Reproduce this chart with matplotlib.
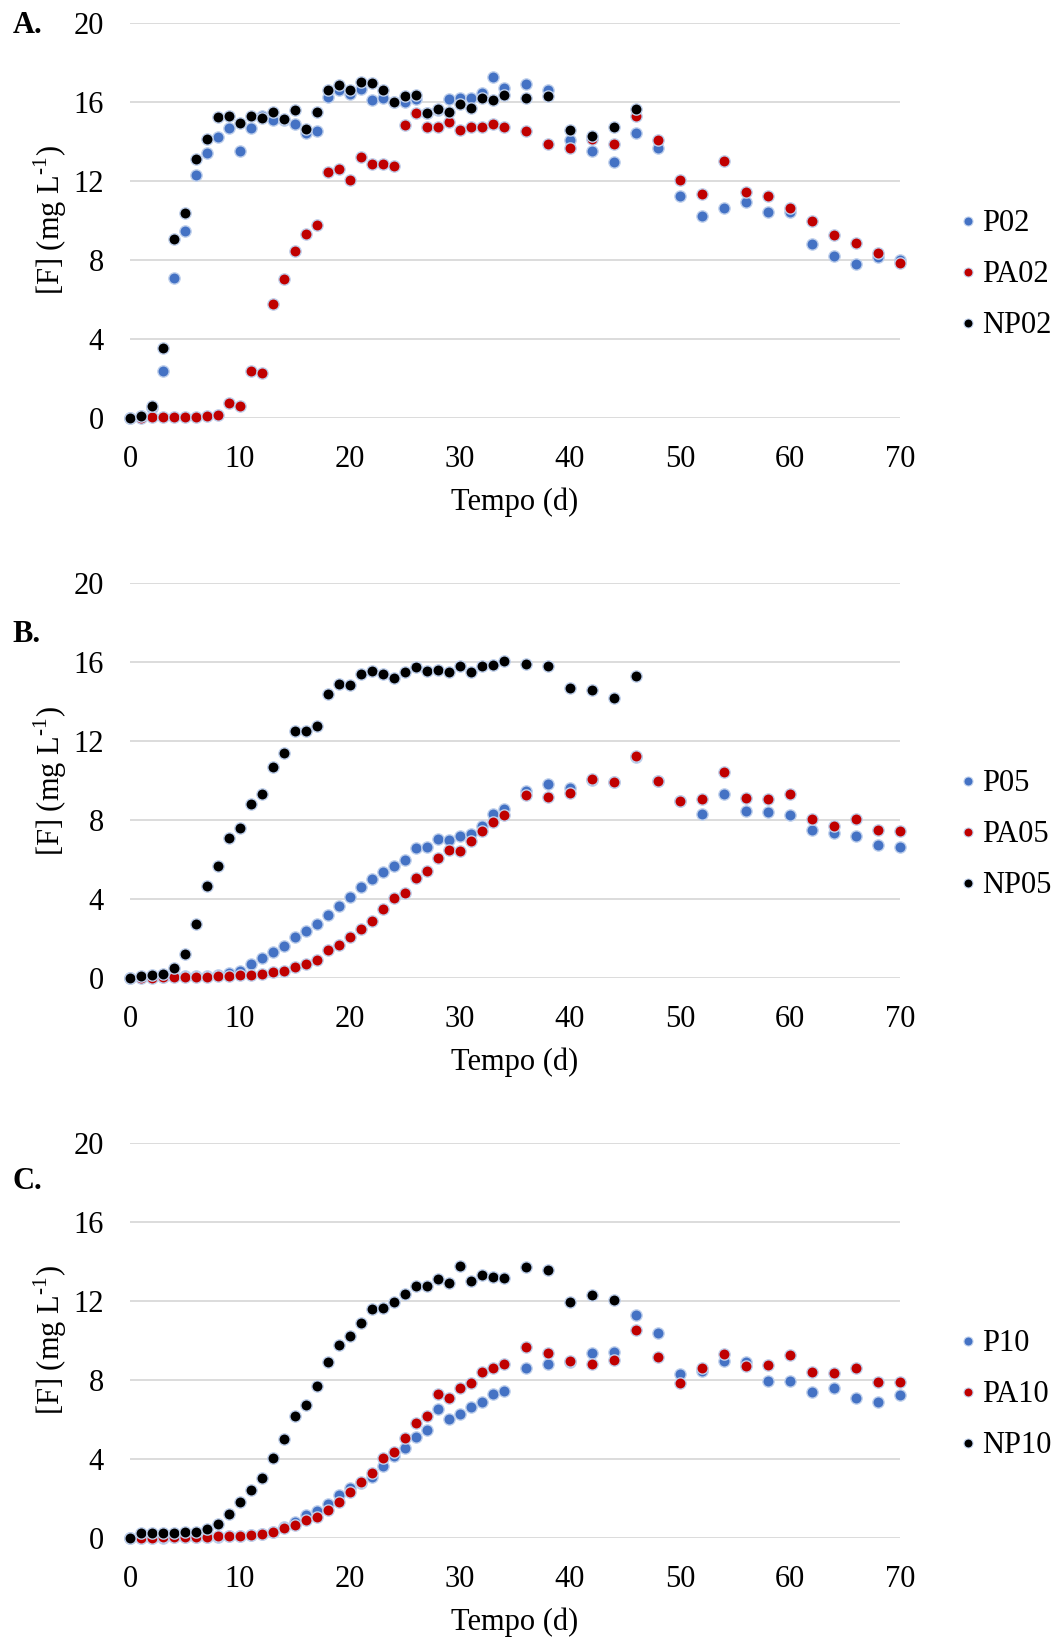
import matplotlib
matplotlib.use("Agg")
import matplotlib.pyplot as plt
from matplotlib.lines import Line2D

plt.rcParams['font.family'] = ['Liberation Serif', 'DejaVu Serif']
plt.rcParams['mathtext.fontset'] = 'custom'
plt.rcParams['mathtext.rm'] = 'Liberation Serif'

# sampling days: daily up to day 34, then every second day
days = [0, 1, 2, 3, 4, 5, 6, 7, 8, 9, 10, 11, 12, 13, 14, 15, 16, 17, 18, 19,
        20, 21, 22, 23, 24, 25, 26, 27, 28, 29, 30, 31, 32, 33, 34,
        36, 38, 40, 42, 44, 46, 48, 50, 52, 54, 56, 58, 60, 62, 64, 66, 68, 70]

# fluoride concentration, mg/L
p02 = [0, 0.1, 0.5, 2.41, 7.10, 9.48, 12.32, 13.40, 14.24, 14.66, 13.52, 14.65,
       15.3, 15.1, 15.1, 14.9, 14.43, 14.51, 16.25, 16.58, 16.41, 16.67, 16.11,
       16.2, 16.0, 16.0, 16.16, 15.45, 15.6, 16.15, 16.2, 16.2, 16.45, 17.26,
       16.72, 16.89, 16.6, 14.06, 13.5, 12.96, 14.41, 13.64, 11.23, 10.22,
       10.62, 10.94, 10.42, 10.44, 8.79, 8.18, 7.79, 8.13, 8.0]
pa02 = [0, 0, 0.05, 0.05, 0.08, 0.08, 0.08, 0.1, 0.15, 0.76, 0.64, 2.39, 2.27,
        5.79, 7.05, 8.48, 9.33, 9.78, 12.47, 12.58, 12.05, 13.23, 12.85, 12.86,
        12.73, 14.83, 15.44, 14.73, 14.75, 15.0, 14.58, 14.75, 14.71, 14.87,
        14.70, 14.51, 13.86, 13.64, 14.1, 13.86, 15.27, 14.06, 12.07, 11.33,
        13.01, 11.45, 11.23, 10.64, 9.97, 9.28, 8.84, 8.37, 7.86]
np02 = [0, 0.12, 0.61, 3.57, 9.06, 10.4, 13.1, 14.14, 15.22, 15.29, 14.95,
        15.29, 15.20, 15.47, 15.15, 15.56, 14.61, 15.49, 16.58, 16.84, 16.57,
        17.0, 16.94, 16.58, 15.98, 16.28, 16.36, 15.45, 15.61, 15.49, 15.89,
        15.69, 16.2, 16.11, 16.33, 16.21, 16.30, 14.56, 14.28, 14.73, 15.66]

p05 = [0, 0.05, 0.05, 0.08, 0.1, 0.1, 0.1, 0.12, 0.15, 0.25, 0.39, 0.74, 1.04,
       1.35, 1.63, 2.1, 2.41, 2.73, 3.22, 3.67, 4.12, 4.61, 5.0, 5.4, 5.67, 6.0,
       6.61, 6.65, 7.07, 6.99, 7.22, 7.29, 7.71, 8.33, 8.54, 9.46, 9.83, 9.63,
       10.05, 9.95, 11.2, 10.0, 8.95, 8.33, 9.33, 8.48, 8.42, 8.25, 7.49, 7.36,
       7.22, 6.73, 6.62]
pa05 = [0, 0.02, 0.03, 0.05, 0.06, 0.08, 0.08, 0.08, 0.12, 0.13, 0.15, 0.17,
        0.22, 0.32, 0.37, 0.56, 0.71, 0.91, 1.43, 1.67, 2.07, 2.51, 2.91, 3.52,
        4.07, 4.29, 5.08, 5.44, 6.09, 6.5, 6.45, 6.92, 7.46, 7.88, 8.28, 9.29,
        9.18, 9.39, 10.1, 9.92, 11.23, 9.97, 8.96, 9.06, 10.42, 9.12, 9.09,
        9.33, 8.06, 7.71, 8.06, 7.49, 7.46]
np05 = [0, 0.12, 0.15, 0.2, 0.5, 1.21, 2.74, 4.68, 5.67, 7.10, 7.61, 8.82, 9.34,
        10.69, 11.41, 12.49, 12.49, 12.76, 14.39, 14.88, 14.85, 15.39, 15.56,
        15.37, 15.19, 15.5, 15.76, 15.56, 15.61, 15.49, 15.81, 15.49, 15.81,
        15.82, 16.06, 15.91, 15.81, 14.70, 14.6, 14.19, 15.3]

p10 = [0, 0.02, 0.03, 0.03, 0.04, 0.05, 0.05, 0.06, 0.08, 0.1, 0.12, 0.15, 0.22,
       0.32, 0.55, 0.8, 1.18, 1.4, 1.72, 2.19, 2.53, 2.8, 3.11, 3.67, 4.18, 4.58,
       5.1, 5.47, 6.55, 6.04, 6.28, 6.62, 6.9, 7.29, 7.44, 8.6, 8.79, 8.9, 9.38,
       9.4, 11.3, 10.4, 8.3, 8.47, 8.97, 8.9, 7.96, 7.96, 7.41, 7.58, 7.1, 6.87,
       7.24]
pa10 = [0, 0.02, 0.03, 0.04, 0.05, 0.05, 0.05, 0.08, 0.1, 0.1, 0.12, 0.15, 0.24,
        0.32, 0.52, 0.67, 0.93, 1.09, 1.43, 1.85, 2.34, 2.83, 3.32, 4.04, 4.38,
        5.07, 5.81, 6.2, 7.27, 7.07, 7.61, 7.85, 8.38, 8.59, 8.79, 9.66, 9.39,
        8.97, 8.8, 9.0, 10.54, 9.16, 7.85, 8.59, 9.34, 8.72, 8.77, 9.24, 8.38,
        8.35, 8.62, 7.91, 7.91]
np10 = [0, 0.25, 0.25, 0.29, 0.29, 0.3, 0.32, 0.47, 0.72, 1.23, 1.82, 2.42, 3.06,
        4.07, 5.0, 6.2, 6.72, 7.71, 8.89, 9.75, 10.2, 10.88, 11.57, 11.65, 11.95,
        12.34, 12.76, 12.76, 13.11, 12.91, 13.75, 13.03, 13.32, 13.22, 13.18,
        13.69, 13.55, 11.95, 12.29, 12.02]

panels = [
    ('A.', 0.9845, [('P02', p02), ('PA02', pa02), ('NP02', np02)]),
    ('B.', 0.6132, [('P05', p05), ('PA05', pa05), ('NP05', np05)]),
    ('C.', 0.2800, [('P10', p10), ('PA10', pa10), ('NP10', np10)]),
]
colors = ['#4472C4', '#C00000', '#000000']
edge = '#BFD0EC'

fig = plt.figure(figsize=(10.59, 16.41), dpi=100)
bottoms = [0.7451, 0.4038, 0.0626]

for (letter, letter_y, series), bottom in zip(panels, bottoms):
    ax = fig.add_axes([0.1228, bottom, 0.7271, 0.2411])
    handles = []
    for (name, vals), c in zip(series, colors):
        ax.scatter(days[:len(vals)], vals, s=66, color=c, edgecolors=edge,
                   linewidths=1.0, clip_on=False, zorder=3)
        handles.append(Line2D([], [], ls='none', marker='o', markersize=6.5,
                              markerfacecolor=c, markeredgecolor=edge,
                              markeredgewidth=0.8, label=name))
    ax.set_xlim(0, 70)
    ax.set_ylim(0, 20)
    ax.set_xticks(range(0, 71, 10))
    ax.set_yticks(range(0, 21, 4))
    ax.grid(axis='y', color='#D9D9D9', linewidth=1.3)
    ax.set_axisbelow(True)
    for s in ax.spines.values():
        s.set_visible(False)
    ax.tick_params(length=0, labelsize=22)
    ax.tick_params(axis='x', pad=19)
    ax.tick_params(axis='y', pad=19)
    ax.set_xlabel('Tempo (d)', fontsize=22, labelpad=10)
    ax.set_ylabel(r'[F] (mg L$^{\text{-1}}$)', fontsize=22, labelpad=3)
    ax.legend(handles=handles, loc='center left', bbox_to_anchor=(1.058, 0.3625),
              frameon=False, fontsize=22, handlelength=0.5, handletextpad=0.22,
              labelspacing=0.72, borderpad=0)
    fig.text(0.012, letter_y, letter, fontsize=22, fontweight='bold',
             va='center', ha='left')

fig.savefig('out.png', dpi=100)
